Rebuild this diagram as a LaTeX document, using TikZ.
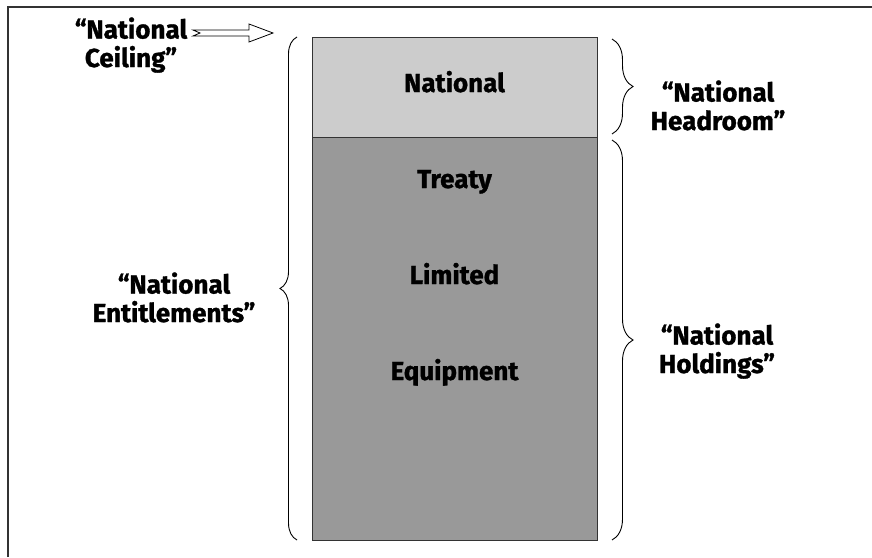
\documentclass[tikz,border=0pt]{standalone}
\usepackage{fontspec}
\setmainfont{Fira Sans}[BoldFeatures={FakeBold=1.2}]
\usetikzlibrary{positioning,decorations.pathreplacing}

\begin{document}
\begin{tikzpicture}[x=1pt, y=-1pt, node distance=0pt,
  lbl/.style={font=\bfseries\fontsize{26}{28.5}\selectfont, align=center, inner sep=0pt},
  bar/.style={draw=black!80, line width=0.8pt, minimum width=285pt, outer sep=0pt, inner sep=0pt},
  brc/.style={decorate, decoration={brace, amplitude=#1}, line width=0.9pt}]
  \useasboundingbox (0,0) rectangle (872,557);
  \draw[line width=2pt, black!80] (8,557) -- (8,7) -- (872,7);

  % the bar
  \node[bar, fill=black!20, minimum height=100pt] (head) at (454.5,87.5) {};
  \node[bar, fill=black!40, minimum height=403pt, below=of head] (hold) {};

  \node[lbl, anchor=base] (nat) at (454.5,92) {National};
  \node[lbl, anchor=base] (treaty) at (454.5,188) {Treaty};
  \node[lbl, anchor=base] (limited) at (454.5,284) {Limited};
  \node[lbl, anchor=base] (equip) at (454.5,380) {Equipment};

  % braces
  \coordinate (entB) at (297,540);
  \coordinate (entT) at (297,37);
  \coordinate (headT) at (612,39);
  \coordinate (headB) at (612,134);
  \coordinate (holdT) at (612,140);
  \coordinate (holdB) at (612,540);
  \draw[brc=17pt] (entB) -- (entT);
  \draw[brc=21pt] (headT) -- (headB);
  \draw[brc=21pt] (holdT) -- (holdB);

  % labels (base = last line)
  \node[lbl, anchor=base] (ceiling) at (131,67) {``National\\Ceiling''};
  \node[lbl, anchor=base] (entitle) at (174,322) {``National\\Entitlements''};
  \node[lbl, anchor=base] (headroom) at (718,130) {``National\\Headroom''};
  \node[lbl, anchor=base] (holdings) at (717,373) {``National\\Holdings''};

  % hollow arrow
  \coordinate (ceiltip) at (273,33);
  \draw[line width=0.8pt, fill=white] (ceiltip) -- ++(-24,-9) -- ++(0,6) -- ++(-56,0)
    -- ++(7,3) -- ++(-7,3) -- ++(56,0) -- ++(0,6) -- cycle;
\end{tikzpicture}
\end{document}
